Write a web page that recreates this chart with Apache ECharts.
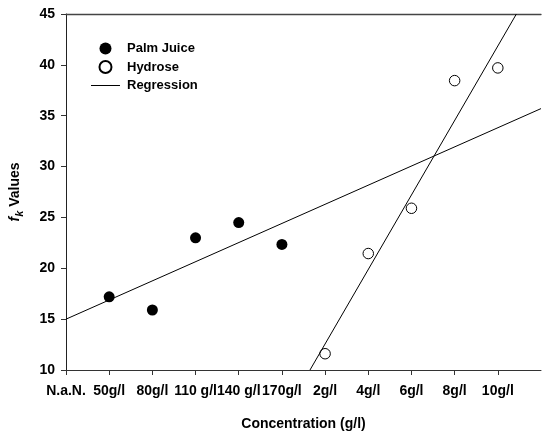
<!DOCTYPE html>
<html lang="en">
<head>
    <meta charset="UTF-8">
    <title>fk Values</title>
    <script src="https://cdn.jsdelivr.net/npm/echarts@6/dist/echarts.min.js"></script>
    <style>
        html, body { margin: 0; padding: 0; background: #fff; }
    </style>
</head>
<body>
<div id="main" style="width: 543px;height:434px"></div>
<script>
    const categories = ['N.a.N.', '50g/l', '80g/l', '110 g/l', '140 g/l', '170g/l', '2g/l', '4g/l', '6g/l', '8g/l', '10g/l', '']
    const palmCats = ['50g/l', '80g/l', '110 g/l', '140 g/l', '170g/l']
    const palmValues = [17.2, 15.9, 23.0, 24.5, 22.35]
    const hydroseCats = ['2g/l', '4g/l', '6g/l', '8g/l', '10g/l']
    const hydroseValues = [11.6, 21.45, 25.9, 38.45, 39.7]
    // regression endpoints, x in category index units
    const palmFit = [[0, 15.0], [11, 35.7]]
    const hydroseFit = [[5.65, 10], [10.43, 45]]

    const font = '"Liberation Sans", Arial, sans-serif'
    // thin line icon for the legend (tiny dots keep the box 29x12)
    const lineIcon = 'path://M0,0L0.01,0L0.01,0.01Z M0,5.5L29,5.5L29,6.5L0,6.5Z M0,12L0.01,12L0.01,12.01Z'
    const myChart = echarts.init(document.getElementById('main'))

    const option = {
        backgroundColor: '#fff',
        animation: false,
        grid: {
            left: 66, right: 2, top: 14, bottom: 64,
            containLabel: false,
            outerBoundsMode: 'none'
        },
        legend: {
            orient: 'vertical',
            left: 86,
            top: 37,
            itemWidth: 29,
            itemHeight: 12,
            itemGap: 5,
            data: [
                { name: 'Palm Juice', icon: 'circle' },
                { name: 'Hydrose', icon: 'circle' },
                { name: 'Regression', icon: lineIcon }
            ],
            textStyle: {
                fontFamily: font, fontWeight: 'bold', fontSize: 13, color: '#000',
                padding: [0, 0, 0, 2]
            }
        },
        xAxis: [
            {
                type: 'category',
                data: categories,
                boundaryGap: false,
                name: 'Concentration (g/l)',
                nameLocation: 'middle',
                nameGap: 47,
                nameTextStyle: { fontFamily: font, fontWeight: 'bold', fontSize: 14, color: '#000' },
                axisLine: { lineStyle: { color: '#333', width: 1 } },
                axisTick: {
                    length: 5,
                    lineStyle: { color: '#333' },
                    interval: function (i, v) { return v !== '' }
                },
                axisLabel: {
                    interval: 0,
                    margin: 14,
                    fontFamily: font, fontWeight: 'bold', fontSize: 14, color: '#000'
                },
                splitLine: { show: false }
            },
            {
                type: 'value',
                position: 'top',
                min: 0,
                max: 11,
                axisLine: { show: true, onZero: false, lineStyle: { color: '#444', width: 1.3 } },
                axisTick: { show: false },
                axisLabel: { show: false },
                splitLine: { show: false }
            }
        ],
        yAxis: {
            type: 'value',
            min: 10,
            max: 45,
            interval: 5,
            name: '{f|f}{k|k}{v| Values}',
            nameLocation: 'middle',
            nameRotate: 90,
            nameGap: 41,
            nameTextStyle: {
                color: '#000',
                rich: {
                    f: { fontFamily: font, fontWeight: 'bold', fontStyle: 'italic', fontSize: 14, lineHeight: 20, verticalAlign: 'middle' },
                    k: { fontFamily: font, fontWeight: 'bold', fontStyle: 'italic', fontSize: 11, lineHeight: 20, verticalAlign: 'bottom' },
                    v: { fontFamily: font, fontWeight: 'bold', fontSize: 14, lineHeight: 20, verticalAlign: 'middle' }
                }
            },
            axisLine: { show: true, lineStyle: { color: '#222', width: 1 } },
            axisTick: { show: true, length: 5, lineStyle: { color: '#333' } },
            axisLabel: { margin: 11, fontFamily: font, fontWeight: 'bold', fontSize: 14, color: '#000' },
            splitLine: { show: false }
        },
        series: [
            {
                name: 'Palm Juice',
                type: 'scatter',
                xAxisIndex: 0,
                symbol: 'circle',
                symbolSize: 11,
                itemStyle: { color: '#000', opacity: 1 },
                data: palmCats.map((c, i) => [c, palmValues[i]])
            },
            {
                name: 'Hydrose',
                type: 'scatter',
                xAxisIndex: 0,
                symbol: 'circle',
                symbolSize: 10.5,
                itemStyle: { color: '#fff', borderColor: '#000', borderWidth: 1, opacity: 1 },
                data: hydroseCats.map((c, i) => [c, hydroseValues[i]])
            },
            {
                name: 'Regression',
                type: 'line',
                xAxisIndex: 1,
                symbol: 'none',
                lineStyle: { color: '#000', width: 1 },
                itemStyle: { color: '#000' },
                data: palmFit
            },
            {
                name: 'Regression',
                type: 'line',
                xAxisIndex: 1,
                symbol: 'none',
                lineStyle: { color: '#000', width: 1 },
                itemStyle: { color: '#000' },
                data: hydroseFit
            }
        ]
    }

    myChart.setOption(option)
</script>
</body>
</html>
